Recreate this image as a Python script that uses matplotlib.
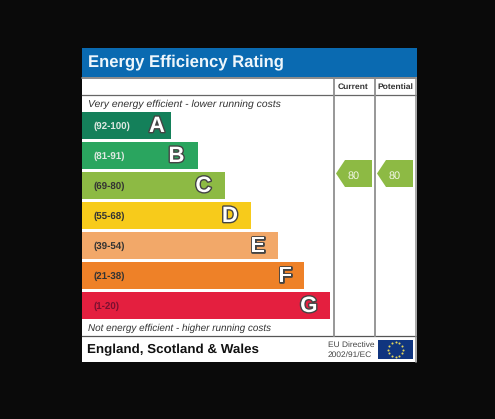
import numpy as np
import matplotlib
matplotlib.use("Agg")
import matplotlib.pyplot as plt
import matplotlib.patheffects as pe
from matplotlib.patches import Polygon, Rectangle

plt.rcParams['font.family'] = ['Liberation Sans', 'DejaVu Sans']
plt.rcParams['text.hinting'] = 'no_hinting'
plt.rcParams['text.hinting_factor'] = 8

letters = ['A', 'B', 'C', 'D', 'E', 'F', 'G']
ranges = ['(92-100)', '(81-91)', '(69-80)', '(55-68)', '(39-54)', '(21-38)', '(1-20)']
bar_lengths = [89, 116, 143, 169, 196, 222, 248]
bar_colors = ['#14805a', '#2aa55f', '#8dba44', '#f7cb1b', '#f2a869', '#ee8128', '#e41f3f']
range_colors = ['#dfe9e2', '#dfe9e2', '#333333', '#333333', '#333333', '#333333', '#7a1030']
letter_inset = [6, 13.5, 13.5, 13, 13, 12, 12.5]
columns = ['Current', 'Potential']
scores = [80, 80]
score_color = '#8dba44'

W, H = 495, 419
fig = plt.figure(figsize=(W / 100, H / 100), dpi=100, facecolor='#0a0a0a')
ax = fig.add_axes([0, 0, 1, 1])
ax.set_xlim(0, W)
ax.set_ylim(H, 0)
ax.axis('off')

# panel and header
ax.add_patch(Rectangle((81.5, 48), 335, 314, fc='white', ec='none', zorder=0))
ax.add_patch(Rectangle((81.5, 48), 335, 29, fc='#0a6ab1', ec='none', zorder=1))
ax.text(88, 62, 'Energy Efficiency Rating', color='#eef6fb', fontsize=12.0,
        fontweight='bold', va='center', ha='left', zorder=3)

grey = '#8f8f8f'
ax.plot([82, 416], [78, 78], color='#777777', lw=1.2, zorder=2)
ax.plot([82, 416], [95, 95], color='#666666', lw=0.9, zorder=2)
ax.plot([82, 416], [336, 336], color='#555555', lw=0.9, zorder=2)
ax.plot([334, 334], [78, 336], color=grey, lw=1.3, zorder=2)
ax.plot([375, 375], [78, 336], color=grey, lw=1.3, zorder=2)
ax.plot([416, 416], [78, 362], color=grey, lw=1.1, zorder=2)

ax.text(353.5, 87, columns[0], fontsize=6.1, fontweight='bold', color='#333333',
        ha='center', va='center', zorder=3)
ax.text(395.5, 87, columns[1], fontsize=6.1, fontweight='bold', color='#333333',
        ha='center', va='center', zorder=3)

ax.text(88, 104, 'Very energy efficient - lower running costs', fontsize=7.5,
        style='italic', color='#333333', va='center', ha='left', zorder=3)
ax.text(88, 328, 'Not energy efficient - higher running costs', fontsize=7.1,
        style='italic', color='#333333', va='center', ha='left', zorder=3)

# bars
ys = 125.5 + 30 * np.arange(len(letters))
ax.barh(ys, bar_lengths, left=82, height=27, color=bar_colors, zorder=2)
for y, length, letter, rng, rc, inset in zip(ys, bar_lengths, letters, ranges,
                                             range_colors, letter_inset):
    ax.text(94, y + 0.5, rng, fontsize=7.0, fontweight='bold', color=rc,
            va='center', ha='left', zorder=3)
    t = ax.text(82 + length - inset, y + 0.8, letter, fontsize=16.0, fontweight='bold',
                color='white', va='center', ha='right', zorder=4)
    t.set_path_effects([pe.withStroke(linewidth=2.0, foreground='#444444')])

# score arrows
for tip, score in zip([336, 377], scores):
    ax.add_patch(Polygon([(tip, 173.5), (tip + 9, 160), (tip + 36, 160),
                          (tip + 36, 187), (tip + 9, 187)],
                         closed=True, fc=score_color, ec='none', zorder=3))
    ax.text(tip + 18, 176.5, str(score), fontsize=7.8, color='#f2f7e6',
            ha='center', va='center', zorder=4)

# footer
ax.text(87, 349.5, 'England, Scotland & Wales', fontsize=9.6, fontweight='bold',
        color='#111111', va='center', ha='left', zorder=3)
ax.text(327.5, 345, 'EU Directive', fontsize=6.0, color='#444444', va='center', ha='left', zorder=3)
ax.text(327.5, 354.5, '2002/91/EC', fontsize=6.0, color='#444444', va='center', ha='left', zorder=3)

# EU flag
ax.add_patch(Rectangle((378, 340), 35, 19, fc='#10357f', ec='none', zorder=3))
angles = np.deg2rad(np.arange(0, 360, 30))
ax.scatter(395.5 + 7.5 * np.cos(angles), 349.5 + 7.5 * np.sin(angles), s=2.2,
           color='#e5d85a', linewidths=0, zorder=4)

fig.savefig('out.png', dpi=100, facecolor=fig.get_facecolor())
